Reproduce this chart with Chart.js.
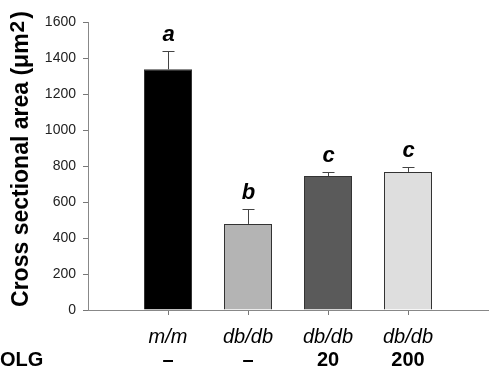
<!DOCTYPE html>
<html><head><meta charset="utf-8">
<script src="https://cdn.jsdelivr.net/npm/chart.js@4/dist/chart.umd.min.js"></script>
<style>html,body{margin:0;padding:0;background:#fff}#wrap{width:490px;height:381px}</style>
</head><body><div id="wrap"><canvas id="c" width="490" height="381"></canvas></div>
<script>
// Data (padded with empty categories at both ends to reproduce the axis spacing)
const genotypes = ['', 'm/m', 'db/db', 'db/db', 'db/db', ''];
const olgDose = ['', '\u2013', '\u2013', '20', '200', ''];
const meanArea = [null, 1337, 478, 744, 767, null];
const errorUpper = [null, 102, 85, 23, 26, null];
const sigLetters = ['', 'a', 'b', 'c', 'c', ''];
const barColors = ['#000000', '#000000', '#b4b4b4', '#5a5a5a', '#dedede', '#000000'];
const yTicks = [0, 200, 400, 600, 800, 1000, 1200, 1400, 1600];

const FONT = "'Liberation Sans', Arial, sans-serif";

const overlay = {
  id: 'overlay',
  afterDatasetsDraw(chart) {
    const ctx = chart.ctx, x = chart.scales.x, y = chart.scales.y;
    ctx.save();
    // error bars
    ctx.strokeStyle = '#444';
    ctx.lineWidth = 1;
    meanArea.forEach((v, i) => {
      if (v == null) return;
      const px = Math.round(x.getPixelForValue(i)) + 0.5;
      const y0 = y.getPixelForValue(v);
      const y1 = Math.round(y.getPixelForValue(v + errorUpper[i])) + 0.5;
      ctx.beginPath();
      ctx.moveTo(px, y0); ctx.lineTo(px, y1);
      ctx.moveTo(px - 6, y1); ctx.lineTo(px + 6, y1);
      ctx.stroke();
      // letters
      ctx.fillStyle = '#000';
      ctx.font = "italic bold 22px " + FONT;
      ctx.textAlign = 'center'; ctx.textBaseline = 'middle';
      ctx.fillText(sigLetters[i], px, y1 - 17);
    });
    // OLG row
    ctx.fillStyle = '#000';
    ctx.font = "bold 20px " + FONT;
    ctx.textBaseline = 'middle';
    ctx.textAlign = 'left';
    ctx.fillText('OLG', 0, 360);
    ctx.textAlign = 'center';
    olgDose.forEach((t, i) => {
      if (!t) return;
      ctx.fillText(t, x.getPixelForValue(i), 360);
    });
    // y title
    ctx.translate(22, 159);
    ctx.rotate(-Math.PI / 2);
    const main = 'Cross sectional area (\u03bcm';
    ctx.font = "bold 23px " + FONT;
    const w1 = ctx.measureText(main).width;
    ctx.font = "bold 21px " + FONT;
    const w2 = ctx.measureText('2').width;
    ctx.font = "bold 23px " + FONT;
    const w3 = ctx.measureText(')').width;
    let sx = -(w1 + w2 + w3 + 3) / 2;
    ctx.textAlign = 'left';
    ctx.textBaseline = 'middle';
    ctx.fillText(main, sx, 0);
    ctx.font = "bold 21px " + FONT;
    ctx.fillText('2', sx + w1 + 1, -4);
    ctx.font = "bold 23px " + FONT;
    ctx.fillText(')', sx + w1 + w2 + 3, 0);
    ctx.restore();
  }
};

new Chart(document.getElementById('c'), {
  type: 'bar',
  data: {
    labels: genotypes,
    datasets: [{
      data: meanArea,
      backgroundColor: barColors,
      borderColor: '#333',
      borderWidth: 1,
      barPercentage: 0.6,
      categoryPercentage: 1.0
    }]
  },
  options: {
    responsive: false,
    animation: false,
    layout: { padding: { left: 0, right: 2, top: 22, bottom: 0 } },
    plugins: { legend: { display: false }, tooltip: { enabled: false } },
    scales: {
      x: {
        offset: false,
        grid: {
          offset: false,
          drawOnChartArea: false,
          tickLength: 5,
          color: ctx => (ctx.index === 0 || ctx.index === genotypes.length - 1) ? 'rgba(0,0,0,0)' : '#777'
        },
        border: { color: '#888', width: 1 },
        ticks: {
          color: '#000',
          font: { family: FONT, size: 20, style: 'italic' },
          padding: 10,
          maxRotation: 0,
          autoSkip: false
        },
        afterFit: s => { s.height = 71; s.paddingLeft = 0; s.paddingRight = 0; }
      },
      y: {
        min: 0, max: 1600,
        afterBuildTicks: s => { s.ticks = yTicks.map(v => ({ value: v })); },
        grid: { drawOnChartArea: false, tickLength: 5, color: '#777' },
        border: { color: '#888', width: 1 },
        ticks: { color: '#222', font: { family: FONT, size: 14 }, padding: 7, callback: v => String(v) },
        afterFit: s => { s.width = 88; }
      }
    }
  },
  plugins: [overlay]
});
</script></body></html>
